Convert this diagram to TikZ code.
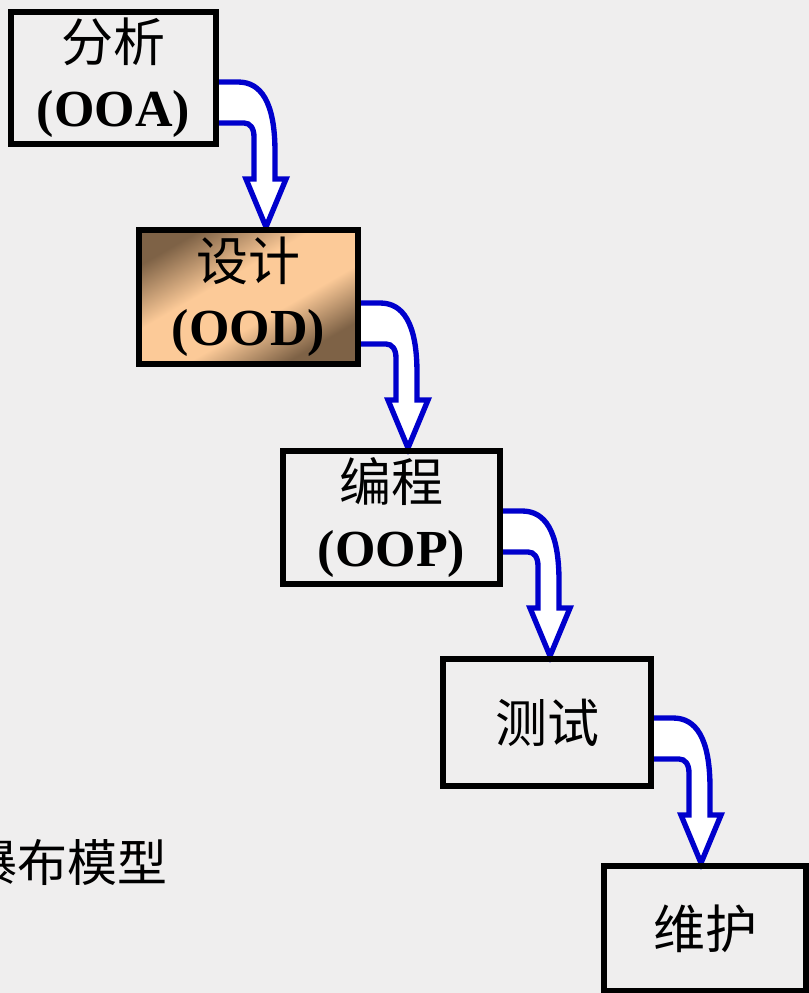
\documentclass[tikz,border=0pt]{standalone}
\usepackage{fontspec}
\setmainfont{Liberation Serif}
\newfontfamily\cjk{Noto Sans CJK SC}
\usetikzlibrary{calc}
\definecolor{bgcol}{HTML}{EFEEEE}
\definecolor{arrowblue}{HTML}{0000CC}
\definecolor{tandark}{HTML}{7E6246}
\definecolor{tanlight}{HTML}{FCCA98}
\pgfdeclareverticalshading{tanshade}{100bp}{color(0bp)=(tandark); color(27bp)=(tandark); color(42bp)=(tanlight); color(58bp)=(tanlight); color(75bp)=(tandark); color(100bp)=(tandark)}
\pgfdeclarelayer{bglayer}
\pgfdeclarelayer{arrowlayer}
\pgfsetlayers{bglayer,arrowlayer,main}
\tikzset{
  box/.style={draw=black, line width=4.5pt, outer sep=0pt, inner sep=0pt, align=center,
    font=\fontsize{39}{48.75}\selectfont},
  harrow/.style={draw=arrowblue, fill=white, line width=4pt, line join=miter},
  tanfill/.style={shading=tanshade, shading angle=30},
}
\newcommand\hollowarrow[2]{%
  \coordinate (ha) at ($(#1.east |- #2.north)+(0,-148)$);
  \begin{scope}[shift={(ha)}]
    \draw[harrow] (0,0) -- (22,0) .. controls (45,0) and (59,20) .. (59,70) -- (59,97)
      -- (70,97) -- (50,145) -- (30,97) -- (38,97) -- (38,55)
      .. controls (38,46) and (34,41) .. (28,41) -- (0,41) -- cycle;
  \end{scope}}
\begin{document}
\begin{tikzpicture}[x=0.75pt,y=-0.75pt]
\useasboundingbox (0,0) rectangle (809,993);
\clip (0,0) rectangle (809,993);
\begin{pgfonlayer}{bglayer}
  \fill[bgcol] (0,0) rectangle (809,993);
\end{pgfonlayer}
\node[box, minimum width=153.75pt, minimum height=99pt] (b1) at (113.5,78)
  {{\cjk 分析}\\\textbf{(OOA)}};
\node[box, tanfill, minimum width=164.25pt, minimum height=100.5pt] (b2) at (248.5,297)
  {{\cjk 设计}\\\textbf{(OOD)}};
\node[box, minimum width=162.75pt, minimum height=99.75pt] (b3) at (391.5,517.5)
  {{\cjk 编程}\\\textbf{(OOP)}};
\node[box, minimum width=156pt, minimum height=95.25pt] (b4) at (547,722.5)
  {{\cjk 测试}};
\node[box, minimum width=151.5pt, minimum height=93.75pt] (b5) at (705,928.5)
  {{\cjk 维护}};
\node[anchor=east, inner sep=0pt, font=\cjk\fontsize{37.5}{40}\selectfont] (title) at (168,863) {瀑布模型};
\begin{pgfonlayer}{arrowlayer}
  \hollowarrow{b1}{b2}
  \hollowarrow{b2}{b3}
  \hollowarrow{b3}{b4}
  \hollowarrow{b4}{b5}
\end{pgfonlayer}
\end{tikzpicture}
\end{document}
